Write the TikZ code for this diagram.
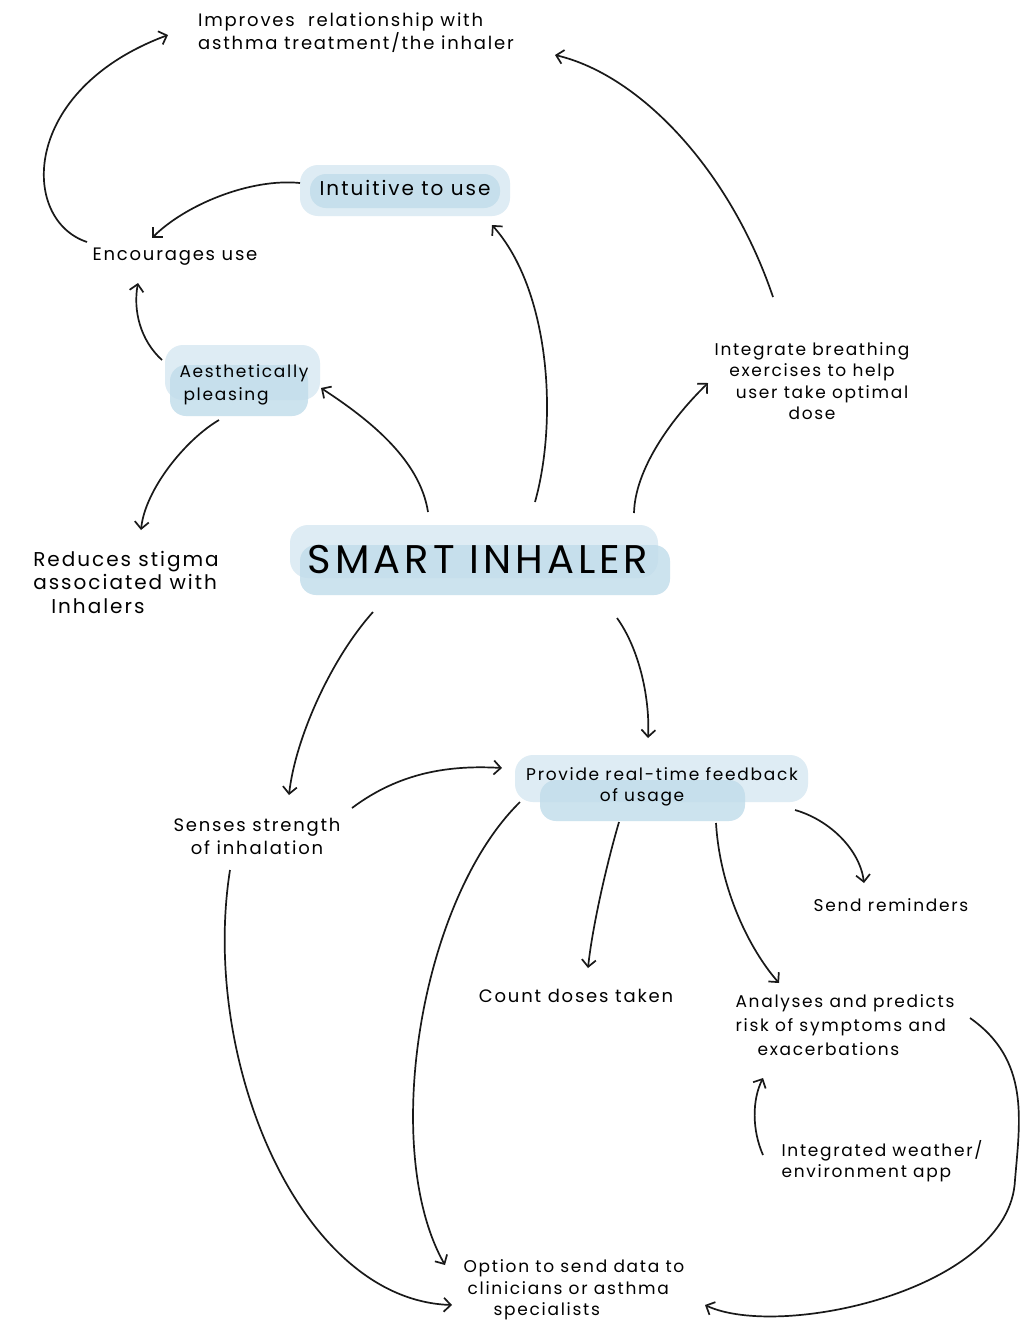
\documentclass[tikz,border=0pt]{standalone}
\usepackage{fontspec}
\setmainfont{Poppins}[LetterSpace=10]
\usetikzlibrary{arrows.meta}
\definecolor{hlA}{RGB}{222,236,244}
\definecolor{hlB}{RGB}{192,220,234}
\begin{document}
\begin{tikzpicture}[x=1pt,y=-1pt,
  arr/.style={-{Straight Barb[length=7pt,width=14pt]}, line width=1.7pt, black!90},
  txt/.style={inner sep=0pt, font=\fontsize{18}{23}\selectfont},
  hla/.style={fill=hlA, rounded corners=18pt},
  hlb/.style={fill=hlB, rounded corners=16pt, opacity=0.8}]
\useasboundingbox[fill=white] (0,0) rectangle (1028,1323);
% highlights
\fill[hla] (290,525) rectangle (658,578);
\fill[hlb] (300,545) rectangle (670,595);
\fill[hla] (300,165) rectangle (510,216);
\fill[hlb] (310,174) rectangle (500,208);
\fill[hla] (165,345) rectangle (320,400);
\fill[hlb] (170,365) rectangle (308,416);
\fill[hla] (515,755) rectangle (808,802);
\fill[hlb] (540,780) rectangle (745,821);
% nodes
\node[txt, align=left] (imp) at (356,33) {Improves\ \ relationship with\\asthma treatment/the inhaler};
\node[txt, font=\fontsize{20}{24}\selectfont] (intu) at (405,188) {Intuitive to use};
\node[txt] (enc) at (175,257) {Encourages use};
\node[txt, align=left, font=\fontsize{17}{23}\selectfont] (aest) at (244,385) {Aesthetically\\\hspace{4pt}pleasing};
\node[txt, align=left, font=\fontsize{20}{23.5}\selectfont] (red) at (126,582) {Reduces stigma\\associated with\\\hspace{18pt}Inhalers};
\node[txt, font=\fontsize{40}{44}\selectfont] (smart) at (478,560) {SMART INHALER};
\node[txt, align=center, font=\fontsize{17}{21.5}\selectfont] (integ) at (812,381) {Integrate breathing\\exercises to help\\\hspace{20pt}user take optimal\\dose};
\node[txt, align=center, font=\fontsize{17}{21}\selectfont] (prov) at (662,787) {Provide real-time feedback\\\hspace{-40pt}of usage};
\node[txt, align=center] (sens) at (257,836) {Senses strength\\of inhalation};
\node[txt, font=\fontsize{17}{21}\selectfont] (send) at (891,905) {Send reminders};
\node[txt] (count) at (576,996) {Count doses taken};
\node[txt, align=left, font=\fontsize{17}{24}\selectfont] (anal) at (845,1025) {Analyses and predicts\\risk of symptoms and\\\hspace{22pt}exacerbations};
\node[txt, align=left, font=\fontsize{17}{21}\selectfont] (weath) at (882,1161) {Integrated weather/\\environment app};
\node[txt, align=left, font=\fontsize{17}{21.5}\selectfont] (opt) at (574,1290) {Option to send data to\\\hspace{4pt}clinicians or asthma\\\hspace{30pt}specialists};
% connectors
\draw[arr] ([shift={(-88,-15)}]enc.center) .. controls (20,220) and (20,90) .. ([shift={(-188,2)}]imp.center);
\draw[arr] ([shift={(-105,-5)}]intu.center) .. controls (250,178) and (185,205) .. ([shift={(-23,-19)}]enc.center);
\draw[arr] ([shift={(-82,-25)}]aest.center) .. controls (140,340) and (133,310) .. ([shift={(-37,26)}]enc.center);
\draw[arr] ([shift={(-25,35)}]aest.center) .. controls (185,440) and (145,490) .. ([shift={(15,-52)}]red.center);
\draw[arr] ([shift={(-50,-48)}]smart.center) .. controls (420,460) and (370,420) .. ([shift={(77,3)}]aest.center);
\draw[arr] ([shift={(57,-58)}]smart.center) .. controls (558,420) and (550,290) .. ([shift={(87,37)}]intu.center);
\draw[arr] ([shift={(156,-47)}]smart.center) .. controls (635,470) and (670,420) .. ([shift={(-104,2)}]integ.center);
\draw[arr] ([shift={(-39,-84)}]integ.center) .. controls (730,170) and (640,75) .. ([shift={(199,22)}]imp.center);
\draw[arr] ([shift={(139,58)}]smart.center) .. controls (640,650) and (650,700) .. ([shift={(-14,-49)}]prov.center);
\draw[arr] ([shift={(-105,52)}]smart.center) .. controls (330,660) and (295,740) .. ([shift={(32,-41)}]sens.center);
\draw[arr] ([shift={(95,-28)}]sens.center) .. controls (400,772) and (450,765) .. ([shift={(-160,-19)}]prov.center);
\draw[arr] ([shift={(-43,35)}]prov.center) .. controls (605,870) and (592,930) .. ([shift={(12,-28)}]count.center);
\draw[arr] ([shift={(54,36)}]prov.center) .. controls (720,890) and (750,950) .. ([shift={(-66,-42)}]anal.center);
\draw[arr] ([shift={(133,23)}]prov.center) .. controls (830,820) and (860,850) .. ([shift={(-27,-22)}]send.center);
\draw[arr] ([shift={(-142,15)}]prov.center) .. controls (420,900) and (380,1150) .. ([shift={(-129,-25)}]opt.center);
\draw[arr] ([shift={(-27,34)}]sens.center) .. controls (200,1060) and (300,1300) .. ([shift={(-122,15)}]opt.center);
\draw[arr] ([shift={(-119,-6)}]weath.center) .. controls (752,1130) and (752,1100) .. ([shift={(-82,53)}]anal.center);
\draw[arr] ([shift={(125,-7)}]anal.center) .. controls (1030,1060) and (1020,1120) .. (1015,1180) .. controls (1010,1290) and (780,1340) .. ([shift={(131,15)}]opt.center);
\end{tikzpicture}
\end{document}
